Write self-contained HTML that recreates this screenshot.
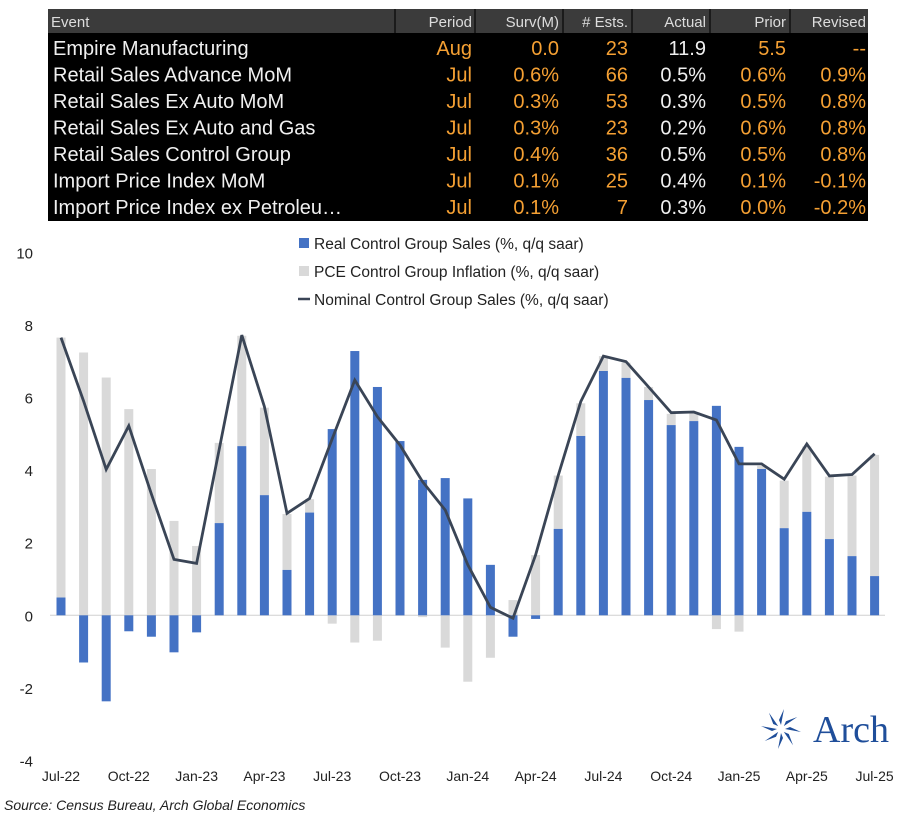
<!DOCTYPE html>
<html><head><meta charset="utf-8"><style>
body{margin:0;background:#fff;width:902px;height:820px;overflow:hidden;font-family:"Liberation Sans",sans-serif}
</style></head><body>
<svg width="902" height="820" viewBox="0 0 902 820" xmlns="http://www.w3.org/2000/svg">
<g id="table"></g>
<g id="chart"></g>
</svg>
<script>
const months=["Jul-22","Aug-22","Sep-22","Oct-22","Nov-22","Dec-22","Jan-23","Feb-23","Mar-23","Apr-23","May-23","Jun-23","Jul-23","Aug-23","Sep-23","Oct-23","Nov-23","Dec-23","Jan-24","Feb-24","Mar-24","Apr-24","May-24","Jun-24","Jul-24","Aug-24","Sep-24","Oct-24","Nov-24","Dec-24","Jan-25","Feb-25","Mar-25","Apr-25","May-25","Jun-25","Jul-25"];
const realSales=[0.49,-1.30,-2.37,-0.44,-0.59,-1.02,-0.47,2.54,4.66,3.31,1.25,2.83,5.13,7.28,6.29,4.80,3.73,3.78,3.22,1.39,-0.59,-0.10,2.38,4.94,6.73,6.54,5.93,5.24,5.35,5.77,4.64,4.03,2.40,2.85,2.10,1.63,1.08];
const pceInflation=[7.16,7.24,6.55,5.68,4.03,2.60,1.91,2.21,3.04,2.41,1.54,0.37,-0.23,-0.75,-0.70,-0.02,-0.05,-0.89,-1.83,-1.17,0.42,1.66,1.47,0.90,0.41,0.42,0.36,0.31,0.21,-0.38,-0.45,0.09,1.31,1.80,1.72,2.22,3.34];
const nominalSales=[7.65,5.90,4.02,5.22,3.34,1.54,1.43,4.57,7.72,5.75,2.81,3.22,4.86,6.48,5.47,4.69,3.68,2.90,1.39,0.22,-0.08,1.66,3.85,5.89,7.14,6.99,6.29,5.58,5.60,5.38,4.17,4.17,3.75,4.72,3.84,3.88,4.45];
const yTicks=[10,8,6,4,2,0,-2,-4];
const xTickLabels=["Jul-22","Oct-22","Jan-23","Apr-23","Jul-23","Oct-23","Jan-24","Apr-24","Jul-24","Oct-24","Jan-25","Apr-25","Jul-25"];

const tableHeader=["Event","Period","Surv(M)","# Ests.","Actual","Prior","Revised"];
const tableRows=[
["Empire Manufacturing","Aug","0.0","23","11.9","5.5","--"],
["Retail Sales Advance MoM","Jul","0.6%","66","0.5%","0.6%","0.9%"],
["Retail Sales Ex Auto MoM","Jul","0.3%","53","0.3%","0.5%","0.8%"],
["Retail Sales Ex Auto and Gas","Jul","0.3%","23","0.2%","0.6%","0.8%"],
["Retail Sales Control Group","Jul","0.4%","36","0.5%","0.5%","0.8%"],
["Import Price Index MoM","Jul","0.1%","25","0.4%","0.1%","-0.1%"],
["Import Price Index ex Petroleu…","Jul","0.1%","7","0.3%","0.0%","-0.2%"]];

const NS="http://www.w3.org/2000/svg";
function mk(tag,attrs,parent,text){const e=document.createElementNS(NS,tag);for(const k in attrs)e.setAttribute(k,attrs[k]);if(text!==undefined)e.textContent=text;parent.appendChild(e);return e;}

const T=document.getElementById('table');
const bg=mk('rect',{x:48,y:9,width:820,height:212,fill:'#000'},T);


const hb=mk('rect',{x:48,y:9,width:820,height:24,fill:'#3b3b3b'},T);


const colRight=[0,472,559,628,706,786,866];
const sepX=[395,475,563,632,710,790];
sepX.forEach(x=>{const l=mk('line',{x1:x,y1:9,x2:x,y2:33,stroke:'#111','stroke-width':1.5},T);

});
tableHeader.forEach((h,i)=>{
 const t=mk('text',{x:i==0?51:colRight[i],y:27,'text-anchor':i==0?'start':'end',fill:'#ddd','font-size':15,'font-family':'"Liberation Sans Narrow","Liberation Sans",sans-serif'},T,h);
 
 
});
tableRows.forEach((r,ri)=>{
 const y=55+ri*26.5;
 r.forEach((c,ci)=>{
  let fill='#f0f0f0';
  if(ci==1||ci==2||ci==3||ci==5||ci==6)fill='#f5a033';
  const t=mk('text',{x:ci==0?53:colRight[ci],y:y,'text-anchor':ci==0?'start':'end',fill:fill,'font-size':20,'font-family':'"Liberation Sans Narrow","Liberation Sans",sans-serif'},T,c);
  
  
 });
});

const C=document.getElementById('chart');
const y0=615.3,ppu=36.3;
function Y(v){return y0-v*ppu;}
function X(i){return 61+i*22.6;}
yTicks.forEach(v=>{const t=mk('text',{x:33,y:Y(v)+6,'text-anchor':'end','font-size':15,fill:'#222'},C,String(v));

});
const ax=mk('line',{x1:50,y1:y0,x2:885,y2:y0,stroke:'#d0d0d0','stroke-width':1},C);


const bw=9;
months.forEach((m,i)=>{
 const r=realSales[i],p=pceInflation[i],x=X(i)-bw/2;
 let gTop,gBot;
 if(p>=0){gBot=r>0?r:0;gTop=gBot+p;}else{gTop=r<0?r:0;gBot=gTop+p;}
 const g=mk('rect',{x:x,y:Y(gTop),width:bw,height:Math.max(0,Y(gBot)-Y(gTop)),fill:'#d9d9d9'},C);
 
 
 const b=mk('rect',{x:x,y:Math.min(Y(r),y0),width:bw,height:Math.abs(Y(r)-y0),fill:'#4472c4'},C);
 
 
});
const pts=nominalSales.map((v,i)=>X(i).toFixed(1)+','+Y(v).toFixed(1)).join(' ');
const pl=mk('polyline',{points:pts,fill:'none',stroke:'#3a4556','stroke-width':2.8,'stroke-linejoin':'miter'},C);


xTickLabels.forEach((l,k)=>{const t=mk('text',{x:X(k*3),y:781,'text-anchor':'middle','font-size':14,fill:'#222'},C,l);

});
const leg=[['#4472c4','Real Control Group Sales (%, q/q saar)','rect'],['#d9d9d9','PCE Control Group Inflation (%, q/q saar)','rect'],['#3a4556','Nominal Control Group Sales (%, q/q saar)','line']];
leg.forEach((d,k)=>{
 const y=244+k*28;
 let s;
 if(d[2]=='rect')s=mk('rect',{x:299,y:y-6,width:10,height:10,fill:d[0]},C);
 else s=mk('line',{x1:298,y1:y-1,x2:310,y2:y-1,stroke:d[0],'stroke-width':2.5},C);
 
 
 const t=mk('text',{x:314,y:y+5,'font-size':15.5,fill:'#222'},C,d[1]);
 
 
});
const src=mk('text',{x:4,y:810,'font-size':14,'font-style':'italic',fill:'#222'},C,'Source: Census Bureau, Arch Global Economics');


const lg=mk('g',{transform:'translate(781,729)'},C);


for(let a=0;a<8;a++){mk('path',{d:'M0,-4 L3,-20 L-2,-9 Z',fill:'#1f4e9a',transform:'rotate('+(a*45)+')'},lg);}
const at=mk('text',{x:32,y:13,'font-size':38,'font-family':'"Liberation Serif",serif',fill:'#1f4e9a'},lg,'Arch');


</script>
</body></html>
